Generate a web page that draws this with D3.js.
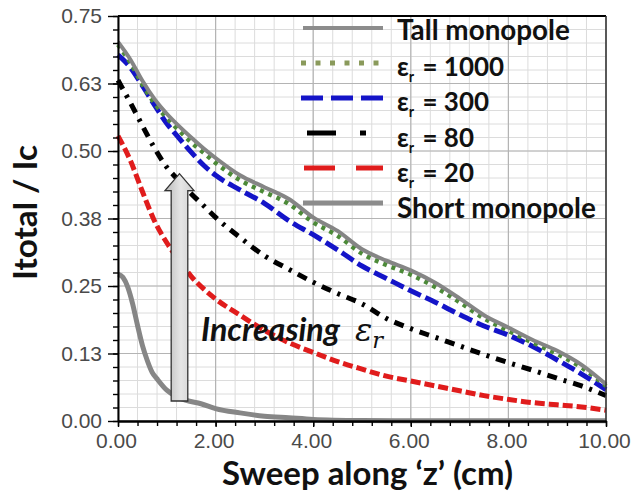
<!DOCTYPE html>
<html>
<head>
<meta charset="utf-8">
<script src="https://cdn.jsdelivr.net/npm/d3@7"></script>
<style>
  html, body { margin: 0; padding: 0; background: #fff; }
  svg { display: block; }
</style>
</head>
<body>
<svg id="chart" width="632" height="492"></svg>
<script>
// Position along the monopole (cm)
const zSweep = [0, 0.25, 0.5, 0.75, 1, 1.25, 1.5, 1.75, 2, 2.5, 3, 3.5, 4, 4.5, 5, 5.5, 6, 6.5, 7, 7.5, 8, 8.5, 9, 9.5, 10];

// Normalised current Itotal / Ic for each case
const tallMonopole = [0.702, 0.670, 0.630, 0.596, 0.569, 0.546, 0.525, 0.505, 0.487, 0.455, 0.433, 0.411, 0.377, 0.352, 0.318, 0.297, 0.279, 0.256, 0.227, 0.196, 0.173, 0.150, 0.130, 0.104, 0.068];
const er1000 = [0.697, 0.664, 0.623, 0.588, 0.561, 0.538, 0.516, 0.497, 0.478, 0.446, 0.424, 0.402, 0.368, 0.343, 0.310, 0.289, 0.271, 0.248, 0.220, 0.190, 0.167, 0.145, 0.124, 0.099, 0.065];
const er300 = [0.678, 0.655, 0.621, 0.585, 0.551, 0.524, 0.498, 0.474, 0.455, 0.428, 0.403, 0.371, 0.345, 0.317, 0.287, 0.264, 0.241, 0.220, 0.197, 0.176, 0.159, 0.138, 0.113, 0.087, 0.058];
const er80 = [0.631, 0.590, 0.547, 0.505, 0.470, 0.445, 0.421, 0.399, 0.377, 0.340, 0.306, 0.281, 0.257, 0.236, 0.217, 0.190, 0.171, 0.155, 0.139, 0.123, 0.108, 0.094, 0.079, 0.065, 0.047];
const er20 = [0.528, 0.483, 0.425, 0.370, 0.330, 0.298, 0.268, 0.245, 0.226, 0.196, 0.168, 0.145, 0.127, 0.110, 0.096, 0.083, 0.074, 0.065, 0.056, 0.047, 0.040, 0.034, 0.030, 0.026, 0.020];

// The short monopole falls off quickly, so it is sampled more finely near z = 0
const zShort = [0, 0.1, 0.2, 0.3, 0.4, 0.5, 0.6, 0.7, 0.8, 1.0, 1.2, 1.4, 1.7, 2.0, 2.5, 3.0, 3.5, 4.0, 5.0, 6.0, 7.0, 8.0, 9.0, 10.0];
const shortMonopole = [0.272, 0.266, 0.248, 0.217, 0.177, 0.140, 0.112, 0.090, 0.078, 0.057, 0.045, 0.038, 0.032, 0.023, 0.015, 0.009, 0.006, 0.003, 0.001, 0.0005, 0.0005, 0.0005, 0.0005, 0.0005];

// Axis ticks
const xTickValues = [0, 2, 4, 6, 8, 10];
const xTickLabels = ["0.00", "2.00", "4.00", "6.00", "8.00", "10.00"];
const yTickValues = [0, 0.125, 0.25, 0.375, 0.5, 0.625, 0.75];
const yTickLabels = ["0.00", "0.13", "0.25", "0.38", "0.50", "0.63", "0.75"];

// Legend entries ("_r" marks the subscript of epsilon)
const legendLabels = ["Tall monopole", "ε_r = 1000", "ε_r = 300", "ε_r = 80", "ε_r = 20", "Short monopole"];

// Annotation arrow (z in cm, from/to in Itotal / Ic)
const arrowZ = 1.26, arrowFrom = 0.037, arrowTo = 0.458;

// ---------------------------------------------------------------------------
const svg = d3.select("#chart");
const plot = { left: 118, right: 606, top: 16, bottom: 421 };

const x = d3.scaleLinear().domain([0, 10]).range([plot.left, plot.right]);
const y = d3.scaleLinear().domain([0, 0.75]).range([plot.bottom, plot.top]);

const tickFont = "'Liberation Sans', Arial, sans-serif";
const titleFont = "Lato, 'Open Sans', sans-serif";

// Font size that makes a string span the given width
function sizeFor(str, target, attrs) {
  const t = svg.append("text").attr("font-size", 20).text(str);
  Object.entries(attrs).forEach(([k, v]) => t.attr(k, v));
  const len = t.node().getComputedTextLength();
  t.remove();
  return 20 * target / len;
}

// Grid: minor every 0.4 cm / 0.025, major at labelled ticks
const xMinor = d3.range(0, 26).map(i => i * 0.4);
const yMinor = d3.range(0, 31).map(i => i * 0.025);
const grid = svg.append("g");
grid.selectAll(".gxm").data(xMinor).join("line")
  .attr("x1", d => x(d)).attr("x2", d => x(d))
  .attr("y1", plot.top).attr("y2", plot.bottom)
  .attr("stroke", "#dcdcdc").attr("stroke-width", 1);
grid.selectAll(".gym").data(yMinor).join("line")
  .attr("x1", plot.left).attr("x2", plot.right)
  .attr("y1", d => y(d)).attr("y2", d => y(d))
  .attr("stroke", "#dcdcdc").attr("stroke-width", 1);
grid.selectAll(".gxM").data(xTickValues).join("line")
  .attr("x1", d => x(d)).attr("x2", d => x(d))
  .attr("y1", plot.top).attr("y2", plot.bottom)
  .attr("stroke", "#b4b4b4").attr("stroke-width", 1.2);
grid.selectAll(".gyM").data(yTickValues).join("line")
  .attr("x1", plot.left).attr("x2", plot.right)
  .attr("y1", d => y(d)).attr("y2", d => y(d))
  .attr("stroke", "#b4b4b4").attr("stroke-width", 1.2);

// Curves
const series = [
  { z: zShort, v: shortMonopole, color: "#868686", width: 5, dash: null },
  { z: zSweep, v: er20, color: "#e01c1c", width: 5, dash: "10,4" },
  { z: zSweep, v: er80, color: "#000000", width: 5, dash: "10,7,3,7" },
  { z: zSweep, v: er300, color: "#1414c8", width: 5, dash: "14,5" },
  { z: zSweep, v: er1000, color: "#4c8a38", width: 4.5, dash: "4,5" },
  { z: zSweep, v: tallMonopole, color: "#858585", width: 4, dash: null }
];
const line = d3.line().x(d => x(d[0])).y(d => y(d[1])).curve(d3.curveMonotoneX);
svg.append("g").selectAll("path").data(series).join("path")
  .attr("d", s => line(s.z.map((z, i) => [z, s.v[i]])))
  .attr("fill", "none")
  .attr("stroke", s => s.color)
  .attr("stroke-width", s => s.width)
  .attr("stroke-dasharray", s => s.dash)
  .attr("stroke-linejoin", "round");

// Legend
const legendStyles = [
  { color: "#8c8c8c", width: 4, dash: null, x0: 303 },
  { color: "#8a9a5b", width: 5, dash: "5,9.5", x0: 301 },
  { color: "#1414c8", width: 5, dash: "22,8", x0: 301 },
  { color: "#000000", width: 5, dash: "29,24,6,40", x0: 307 },
  { color: "#e01c1c", width: 5, dash: "31,21", x0: 304 },
  { color: "#8c8c8c", width: 5, dash: null, x0: 303 }
];
const legend = svg.append("g");
const rowLine = i => 28 + i * 35;
const rowText = i => 40 + i * 35.5;
legend.selectAll("line").data(legendStyles).join("line")
  .attr("x1", d => d.x0).attr("x2", 383)
  .attr("y1", (d, i) => rowLine(i)).attr("y2", (d, i) => rowLine(i))
  .attr("stroke", d => d.color).attr("stroke-width", d => d.width)
  .attr("stroke-dasharray", d => d.dash);

const legendFont = { "font-family": titleFont, "font-weight": "bold" };
const legendSize = sizeFor(legendLabels[0], 173, legendFont);
const epsRows = [];
legendLabels.forEach((lab, i) => {
  const t = legend.append("text")
    .attr("x", 397).attr("y", rowText(i))
    .attr("font-family", titleFont).attr("font-weight", "bold")
    .attr("font-size", legendSize).attr("fill", "#111");
  if (lab.startsWith("ε_r")) {
    t.append("tspan").text("ε");
    t.append("tspan").text("r").attr("font-size", "0.55em").attr("dy", 6);
    t.append("tspan").text(lab.slice(3)).attr("dy", -6).attr("dx", 2);
    epsRows.push(t);
  } else {
    t.text(lab);
  }
});
// Size the epsilon rows so the widest one ("= 1000") spans 105 px
const epsScale = 105 / epsRows[0].node().getComputedTextLength();
epsRows.forEach(t => t.attr("font-size", legendSize * epsScale));

// Annotation arrow
const defs = svg.append("defs");
const grad = defs.append("linearGradient").attr("id", "arrowFill")
  .attr("x1", "0%").attr("x2", "100%").attr("y1", "0%").attr("y2", "0%");
grad.append("stop").attr("offset", "0%").attr("stop-color", "#b9b9b9");
grad.append("stop").attr("offset", "55%").attr("stop-color", "#e6e6e6");
grad.append("stop").attr("offset", "100%").attr("stop-color", "#cfcfcf");

const ax = x(arrowZ), ay0 = y(arrowFrom), ay1 = y(arrowTo);
const bodyHalf = 8.3, headHalf = 14.5, headLen = 17;
const arrowPath = d3.path();
arrowPath.moveTo(ax - bodyHalf, ay0);
arrowPath.lineTo(ax - bodyHalf, ay1 + headLen);
arrowPath.lineTo(ax - headHalf, ay1 + headLen);
arrowPath.lineTo(ax, ay1);
arrowPath.lineTo(ax + headHalf, ay1 + headLen);
arrowPath.lineTo(ax + bodyHalf, ay1 + headLen);
arrowPath.lineTo(ax + bodyHalf, ay0);
arrowPath.closePath();
svg.append("path").attr("d", arrowPath.toString())
  .attr("fill", "url(#arrowFill)").attr("stroke", "#333").attr("stroke-width", 1.3)
  .attr("stroke-linejoin", "miter");

// "Increasing εr" note
const noteFont = { "font-family": titleFont, "font-style": "italic", "font-weight": "bold" };
const noteSize = sizeFor("Increasing", 139, noteFont);
const note = svg.append("text")
  .attr("x", 201).attr("y", 341)
  .attr("font-family", titleFont).attr("font-style", "italic").attr("font-weight", "bold")
  .attr("font-size", noteSize).attr("fill", "#111");
note.append("tspan").text("Increasing");
note.append("tspan").text("ε").attr("dx", 15)
  .attr("font-family", "'DejaVu Serif', serif").attr("font-weight", "normal");
note.append("tspan").text("r").attr("font-size", noteSize * 0.7).attr("dy", 7)
  .attr("font-family", "'DejaVu Serif', serif").attr("font-weight", "normal");

// Frame
svg.append("line").attr("x1", plot.left).attr("x2", plot.right)
  .attr("y1", plot.top).attr("y2", plot.top).attr("stroke", "#000").attr("stroke-width", 2);
svg.append("line").attr("x1", plot.right).attr("x2", plot.right)
  .attr("y1", plot.top).attr("y2", plot.bottom).attr("stroke", "#333").attr("stroke-width", 1.5);

// Axes
const styleAxis = g => {
  g.select(".domain").attr("stroke", "#000");
  g.selectAll(".tick line").attr("stroke", "#000").attr("stroke-width", 1.4);
};
svg.append("g").attr("transform", `translate(${plot.left},0)`)
  .call(d3.axisLeft(y).tickValues(yMinor).tickSize(5).tickFormat(""))
  .call(styleAxis)
  .call(g => g.select(".domain").remove());
svg.append("g").attr("transform", `translate(0,${plot.bottom})`)
  .call(d3.axisBottom(x).tickValues(xMinor).tickSize(5).tickFormat(""))
  .call(styleAxis)
  .call(g => g.select(".domain").remove());

const yAxis = svg.append("g").attr("transform", `translate(${plot.left},0)`)
  .call(d3.axisLeft(y).tickValues(yTickValues).tickSize(10).tickSizeOuter(0).tickPadding(6)
    .tickFormat((d, i) => yTickLabels[i]))
  .call(styleAxis);
yAxis.select(".domain").attr("stroke-width", 2);
yAxis.selectAll("text").attr("font-family", tickFont).attr("font-size", 21).attr("fill", "#4a4a4a");

const xAxis = svg.append("g").attr("transform", `translate(0,${plot.bottom})`)
  .call(d3.axisBottom(x).tickValues(xTickValues).tickSize(6).tickSizeOuter(0).tickPadding(6)
    .tickFormat((d, i) => xTickLabels[i]))
  .call(styleAxis);
xAxis.select(".domain").attr("stroke-width", 2.6);
xAxis.selectAll("text").attr("font-family", tickFont).attr("font-size", 21).attr("fill", "#4a4a4a")
  .attr("dx", -2);

// Axis titles
const yTitleFont = { "font-family": titleFont, "font-weight": "bold" };
svg.append("text")
  .attr("transform", "translate(37,212.5) rotate(-90)")
  .attr("text-anchor", "middle")
  .attr("font-family", titleFont).attr("font-weight", "bold")
  .attr("font-size", sizeFor("Itotal / Ic", 135, yTitleFont)).attr("fill", "#111")
  .text("Itotal / Ic");

const xTitleText = "Sweep along \u2018z\u2019 (cm)";
svg.append("text")
  .attr("x", 367.5).attr("y", 485)
  .attr("text-anchor", "middle")
  .attr("font-family", titleFont).attr("font-weight", "bold")
  .attr("font-size", sizeFor(xTitleText, 291, yTitleFont)).attr("fill", "#111")
  .text(xTitleText);
</script>
</body>
</html>
